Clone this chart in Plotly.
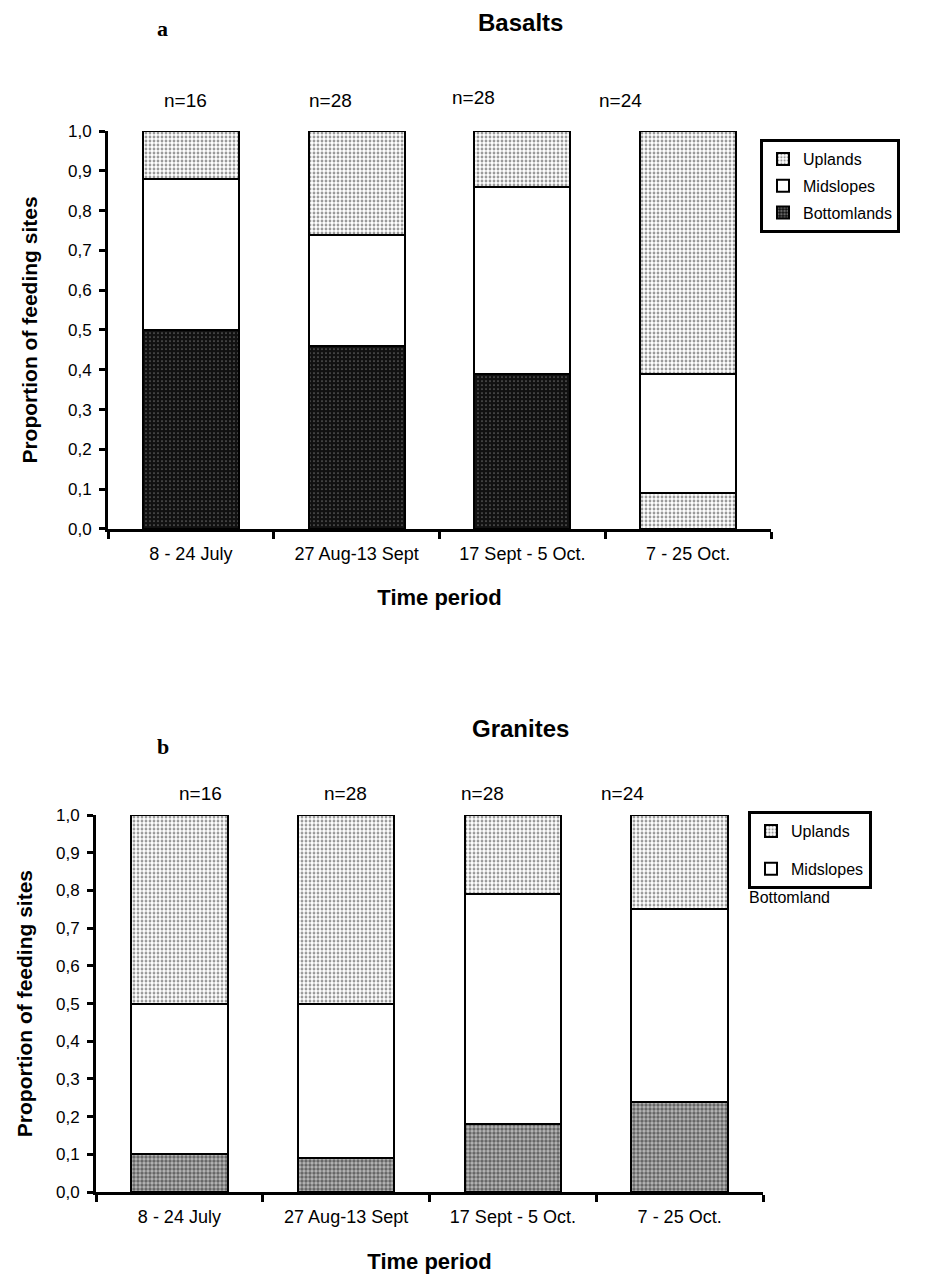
import plotly.graph_objects as go

# ---------------- data ----------------
periods = ["8 - 24 July", "27 Aug-13 Sept", "17 Sept - 5 Oct.", "7 - 25 Oct."]
n_basalts = [16, 28, 28, 24]
n_granites = [16, 28, 28, 24]

bas_bottom = [0.50, 0.46, 0.39, 0.09]
bas_mid = [0.38, 0.28, 0.47, 0.30]
bas_up = [0.12, 0.26, 0.14, 0.61]

gra_bottom = [0.10, 0.09, 0.18, 0.24]
gra_mid = [0.40, 0.41, 0.61, 0.51]
gra_up = [0.50, 0.50, 0.21, 0.25]

y_ticks = [0.0, 0.1, 0.2, 0.3, 0.4, 0.5, 0.6, 0.7, 0.8, 0.9, 1.0]
y_tick_labels = ["0,0", "0,1", "0,2", "0,3", "0,4", "0,5", "0,6", "0,7", "0,8", "0,9", "1,0"]

# ---------------- styling ----------------
W, H = 926, 1284
FONT = "Liberation Sans, Arial, sans-serif"
SERIF = "Liberation Serif, Times New Roman, serif"


def px_x(x):
    return x / W


def px_y(y):
    # pixel row (from top) -> paper fraction, with small vertical compensation
    y = (y - 8.6) / 0.988
    return 1 - y / H


line = dict(color="black", width=2)
light_pat = dict(shape=".", fgcolor="#333333", bgcolor="white", size=4, solidity=0.4)

fig = go.Figure()

# Basalts (top)
fig.add_trace(go.Bar(
    x=periods, y=bas_bottom, name="Bottomlands", xaxis="x", yaxis="y",
    marker=dict(color="#111111", line=line,
                pattern=dict(shape=".",
                             fgcolor=["#bbbbbb", "#bbbbbb", "#bbbbbb", "#333333"],
                             bgcolor=["#111111", "#111111", "#111111", "white"],
                             size=4, solidity=[0.15, 0.15, 0.15, 0.4])),
    legend="legend", legendgroup="b1", legendrank=3))
fig.add_trace(go.Bar(
    x=periods, y=bas_mid, name="Midslopes", xaxis="x", yaxis="y",
    marker=dict(color="white", line=line),
    legend="legend", legendgroup="m1", legendrank=2))
fig.add_trace(go.Bar(
    x=periods, y=bas_up, name="Uplands", xaxis="x", yaxis="y",
    marker=dict(color="white", line=line, pattern=light_pat),
    legend="legend", legendgroup="u1", legendrank=1))

# Granites (bottom)
fig.add_trace(go.Bar(
    x=periods, y=gra_bottom, name="Bottomlands", xaxis="x2", yaxis="y2",
    marker=dict(color="#333333", line=line,
                pattern=dict(shape=".", fgcolor="#111111", bgcolor="#bbbbbb",
                             size=4, solidity=0.6)),
    legend="legend2", showlegend=False, legendgroup="b2", legendrank=3))
fig.add_trace(go.Bar(
    x=periods, y=gra_mid, name="Midslopes", xaxis="x2", yaxis="y2",
    marker=dict(color="white", line=line),
    legend="legend2", legendgroup="m2", legendrank=2))
fig.add_trace(go.Bar(
    x=periods, y=gra_up, name="Uplands", xaxis="x2", yaxis="y2",
    marker=dict(color="white", line=line, pattern=light_pat),
    legend="legend2", legendgroup="u2", legendrank=1))

xaxis_common = dict(
    showline=True, linecolor="black", linewidth=3, mirror=False,
    ticks="outside", tickson="boundaries", ticklen=7, tickwidth=3, tickcolor="black",
    tickfont=dict(family=FONT, size=18, color="black"), ticklabelstandoff=6,
    showgrid=False, zeroline=False, fixedrange=True,
    title=dict(text="<b>Time period</b>", font=dict(family=FONT, size=22, color="black"),
               standoff=28),
)
yaxis_common = dict(
    range=[0, 1], tickvals=y_ticks, ticktext=y_tick_labels,
    showline=True, linecolor="black", linewidth=3,
    ticks="outside", ticklen=6, tickwidth=3, tickcolor="black",
    tickfont=dict(family=FONT, size=17, color="black"), ticklabelstandoff=4,
    showgrid=False, zeroline=False, fixedrange=True,
    title=dict(text="<b>Proportion of feeding sites</b>",
               font=dict(family=FONT, size=21, color="black")),
)

annotations = []
# n labels
shifts_top = [-5, -26, -49, -68]
ys_top = [100, 100, 97, 100]
for p, n, s, yy in zip(periods, n_basalts, shifts_top, ys_top):
    annotations.append(dict(x=p, y=px_y(yy), xref="x", yref="paper", text=f"n={n}",
                            showarrow=False, xshift=s, yanchor="middle",
                            font=dict(family=FONT, size=19, color="black")))
shifts_bot = [21, -1, -30, -57]
for p, n, s in zip(periods, n_granites, shifts_bot):
    annotations.append(dict(x=p, y=px_y(795), xref="x2", yref="paper", text=f"n={n}",
                            showarrow=False, xshift=s, yanchor="middle",
                            font=dict(family=FONT, size=19, color="black")))

annotations += [
    dict(x=px_x(520), y=px_y(22), xref="paper", yref="paper", text="<b>Basalts</b>",
         showarrow=False, yanchor="middle", font=dict(family=FONT, size=24, color="black")),
    dict(x=px_x(155), y=px_y(28), xref="paper", yref="paper", text="<b>a</b>",
         showarrow=False, yanchor="middle", font=dict(family=SERIF, size=22, color="black")),
    dict(x=px_x(520), y=px_y(730), xref="paper", yref="paper", text="<b>Granites</b>",
         showarrow=False, yanchor="middle", font=dict(family=FONT, size=24, color="black")),
    dict(x=px_x(155), y=px_y(748), xref="paper", yref="paper", text="<b>b</b>",
         showarrow=False, yanchor="middle", font=dict(family=SERIF, size=22, color="black")),
    dict(x=px_x(832), y=px_y(900), xref="paper", yref="paper", text="Bottomland",
         showarrow=False, yanchor="middle", font=dict(family=FONT, size=16, color="black")),
]

legend_common = dict(
    bgcolor="white", bordercolor="black", borderwidth=3,
    font=dict(family=FONT, size=16, color="black"),
    xanchor="left", yanchor="top", itemwidth=30, traceorder="grouped",
)

fig.update_layout(
    width=W, height=H,
    margin=dict(l=0, r=0, t=0, b=0),
    paper_bgcolor="white", plot_bgcolor="white",
    barmode="stack", bargap=0.42,
    xaxis=dict(xaxis_common, domain=[px_x(108), px_x(771)], anchor="y"),
    yaxis=dict(yaxis_common, domain=[px_y(530), px_y(131)], anchor="x",
               title=dict(yaxis_common["title"], standoff=25)),
    xaxis2=dict(xaxis_common, domain=[px_x(96), px_x(763)], anchor="y2"),
    yaxis2=dict(yaxis_common, domain=[px_y(1195), px_y(817)], anchor="x2",
                title=dict(yaxis_common["title"], standoff=18)),
    legend=dict(legend_common, tracegroupgap=3, x=px_x(760), y=px_y(139)),
    legend2=dict(legend_common, tracegroupgap=14, x=px_x(748), y=px_y(813)),
    annotations=annotations,
    showlegend=True,
)

fig.write_html("out.html")
